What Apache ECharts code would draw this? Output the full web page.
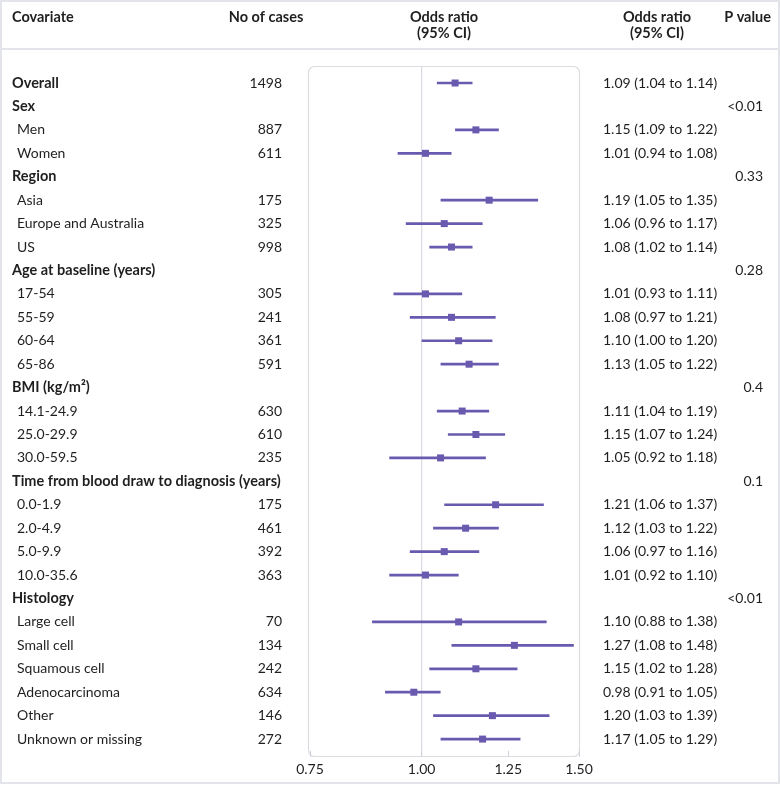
<!DOCTYPE html>
<html><head><meta charset="utf-8">
<script src="https://cdn.jsdelivr.net/npm/echarts@6/dist/echarts.min.js"></script>
<style>html,body{margin:0;padding:0;background:#fff}#c{width:780px;height:785px}</style>
</head><body><div id="c"></div>
<script>
const covariates = ['Overall','Sex','Men','Women','Region','Asia','Europe and Australia','US','Age at baseline (years)','17-54','55-59','60-64','65-86','BMI (kg/m²)','14.1-24.9','25.0-29.9','30.0-59.5','Time from blood draw to diagnosis (years)','0.0-1.9','2.0-4.9','5.0-9.9','10.0-35.6','Histology','Large cell','Small cell','Squamous cell','Adenocarcinoma','Other','Unknown or missing'];
const isHeading = [1,1,0,0,1,0,0,0,1,0,0,0,0,1,0,0,0,1,0,0,0,0,1,0,0,0,0,0,0];
const cases = ['1498','','887','611','','175','325','998','','305','241','361','591','','630','610','235','','175','461','392','363','','70','134','242','634','146','272'];
const oddsRatio = [1.09,null,1.15,1.01,null,1.19,1.06,1.08,null,1.01,1.08,1.10,1.13,null,1.11,1.15,1.05,null,1.21,1.12,1.06,1.01,null,1.10,1.27,1.15,0.98,1.20,1.17];
const ciLow = [1.04,null,1.09,0.94,null,1.05,0.96,1.02,null,0.93,0.97,1.00,1.05,null,1.04,1.07,0.92,null,1.06,1.03,0.97,0.92,null,0.88,1.08,1.02,0.91,1.03,1.05];
const ciHigh = [1.14,null,1.22,1.08,null,1.35,1.17,1.14,null,1.11,1.21,1.20,1.22,null,1.19,1.24,1.18,null,1.37,1.22,1.16,1.10,null,1.38,1.48,1.28,1.05,1.39,1.29];
const pValues = ['','<0.01','','','0.33','','','','0.28','','','','','0.4','','','','0.1','','','','','<0.01','','','','','',''];
const xTicks = [0.75, 1.00, 1.25, 1.50];

const FONT = 'Lato';
const TXT = '#1f1f1f';
const PURPLE = '#6a5aaf';
const BORDER = '#e2e4ea';

const rows = covariates.map((_, i) => i);
const orText = oddsRatio.map((v, i) => v == null ? '' : `${v.toFixed(2)} (${ciLow[i].toFixed(2)} to ${ciHigh[i].toFixed(2)})`);
const seriesData = [];
rows.forEach(i => { if (oddsRatio[i] != null) seriesData.push([Math.log(ciLow[i]), Math.log(ciHigh[i]), Math.log(oddsRatio[i]), i]); });

const chart = echarts.init(document.getElementById('c'), null, {renderer: 'canvas'});
const gridLeft = 310, gridRight = 201, gridTop = 71.3, gridBottom = 34.2;
function catAxis(position, offset, align, formatter) {
  return {
    type: 'category', data: rows, inverse: true, position, offset,
    axisLine: {show: false}, axisTick: {show: false}, splitLine: {show: false},
    axisLabel: {interval: 0, margin: 0, align, fontFamily: FONT, fontSize: 14, color: TXT, formatter,
      rich: {b: {fontFamily: FONT, fontSize: 14.5, fontWeight: 'bold', color: TXT}, n: {fontFamily: FONT, fontSize: 14, color: TXT, padding: [0,0,0,5]}}}
  };
}
const option = {
  animation: false,
  grid: {left: gridLeft, right: gridRight, top: gridTop, bottom: gridBottom},
  xAxis: {
    type: 'value', min: Math.log(0.75), max: Math.log(1.5), offset: 6,
    axisLine: {show: false}, splitLine: {show: false},
    axisTick: {show: true, inside: true, length: 6, lineStyle: {color: '#cfd1d8'}, customValues: xTicks.map(Math.log)},
    axisLabel: {customValues: xTicks.map(Math.log), margin: 6, fontFamily: FONT, fontSize: 14, color: TXT, formatter: v => Math.exp(v).toFixed(2)}
  },
  yAxis: [
    catAxis('left', gridLeft - 12, 'left', (v, i) => isHeading[i] ? `{b|${covariates[i]}}` : `{n|${covariates[i]}}`),
    catAxis('left', gridLeft - 282, 'right', (v, i) => cases[i]),
    catAxis('right', 603 - (780 - gridRight), 'left', (v, i) => orText[i]),
    catAxis('right', 763 - (780 - gridRight), 'right', (v, i) => pValues[i])
  ],
  series: [{
    type: 'custom', xAxisIndex: 0, yAxisIndex: 0, data: seriesData, clip: false,
    encode: {x: [0, 1, 2], y: 3},
    renderItem(params, api) {
      const r = api.value(3);
      const a = api.coord([api.value(0), r]);
      const b = api.coord([api.value(1), r]);
      const c = api.coord([api.value(2), r]);
      return {type: 'group', children: [
        {type: 'line', shape: {x1: a[0], y1: a[1], x2: b[0], y2: b[1]}, style: {stroke: PURPLE, lineWidth: 2.7}},
        {type: 'rect', shape: {x: c[0] - 3.5, y: c[1] - 3.5, width: 7, height: 7}, style: {fill: PURPLE}}
      ]};
    }
  }]
};
chart.setOption(option);
const refX = chart.convertToPixel({xAxisIndex: 0}, Math.log(1));
const hdr = {fontFamily: FONT, fontSize: 14.5, fontWeight: 'bold', fill: TXT};
chart.setOption({graphic: [
  {type: 'rect', shape: {x: 1, y: 1, width: 778, height: 782}, style: {fill: 'none', stroke: BORDER, lineWidth: 2}, silent: true},
  {type: 'line', shape: {x1: 0, y1: 49, x2: 780, y2: 49}, style: {stroke: BORDER, lineWidth: 2}},
  {type: 'rect', shape: {x: 308.5, y: 66.5, width: 271, height: 690, r: 6}, style: {fill: 'none', stroke: '#dcdde3', lineWidth: 1.2}, z: -1},
  {type: 'line', shape: {x1: refX, y1: 67, x2: refX, y2: 756}, style: {stroke: '#d9dae2', lineWidth: 1.2}, z: -1},
  {type: 'text', x: 12, y: 17, style: Object.assign({text: 'Covariate', textAlign: 'left', textVerticalAlign: 'middle'}, hdr)},
  {type: 'text', x: 266, y: 17, style: Object.assign({text: 'No of cases', textAlign: 'center', textVerticalAlign: 'middle'}, hdr)},
  {type: 'text', x: 444, y: 25, style: Object.assign({text: 'Odds ratio\n(95% CI)', textAlign: 'center', textVerticalAlign: 'middle', lineHeight: 16}, hdr)},
  {type: 'text', x: 657, y: 25, style: Object.assign({text: 'Odds ratio\n(95% CI)', textAlign: 'center', textVerticalAlign: 'middle', lineHeight: 16}, hdr)},
  {type: 'text', x: 771, y: 17, style: Object.assign({text: 'P value', textAlign: 'right', textVerticalAlign: 'middle'}, hdr)}
]});
</script></body></html>
